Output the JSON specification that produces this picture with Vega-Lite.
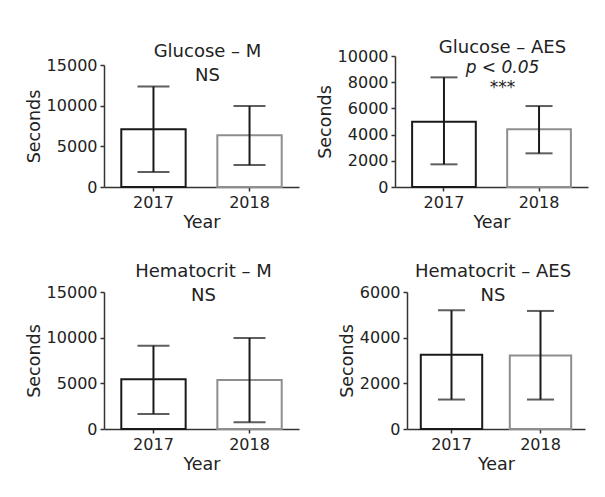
{
  "$schema": "https://vega.github.io/schema/vega-lite/v6.json",
  "padding": {"left": 25, "top": 39, "right": 5, "bottom": 5},
  "background": "white",
  "data": {
    "values": [
      {"panel": "GM", "year": "2017", "mean": 7100, "low": 1850, "high": 12350},
      {"panel": "GM", "year": "2018", "mean": 6350, "low": 2700, "high": 9950},
      {"panel": "GAES", "year": "2017", "mean": 4990, "low": 1730, "high": 8370},
      {"panel": "GAES", "year": "2018", "mean": 4400, "low": 2570, "high": 6180},
      {"panel": "HM", "year": "2017", "mean": 5450, "low": 1650, "high": 9120},
      {"panel": "HM", "year": "2018", "mean": 5370, "low": 740, "high": 9970},
      {"panel": "HAES", "year": "2017", "mean": 3250, "low": 1290, "high": 5200},
      {"panel": "HAES", "year": "2018", "mean": 3220, "low": 1290, "high": 5170}
    ]
  },
  "vconcat": [
    {
      "hconcat": [
        {
          "width": 195, "height": 131,
          "title": {"text": ["Glucose – M", "NS"], "offset": -29, "dx": 6},
          "transform": [{"filter": "datum.panel === 'GM'"}],
          "encoding": {
            "x": {"field": "year", "type": "nominal", "scale": {"paddingInner": 0.33, "paddingOuter": 0.18}, "axis": {"title": "Year", "labelAngle": 0}}
          },
          "layer": [
            {"mark": {"type": "bar", "fill": "white", "strokeWidth": 2},
             "encoding": {
               "y": {"field": "mean", "type": "quantitative", "scale": {"domain": [0, 15000], "range": [131, 9], "nice": false}, "axis": {"title": "Seconds", "values": [0, 5000, 10000, 15000], "format": "d", "labelOverlap": false}},
               "stroke": {"field": "year", "type": "nominal", "scale": {"domain": ["2017", "2018"], "range": ["#1a1a1a", "#8e8e8e"]}, "legend": null}
             }},
            {"mark": {"type": "rule", "strokeWidth": 2, "color": "#1a1a1a"},
             "encoding": {"y": {"field": "low", "type": "quantitative", "axis": {"title": "Seconds", "values": [0, 5000, 10000, 15000], "format": "d", "labelOverlap": false}}, "y2": {"field": "high"}}},
            {"mark": {"type": "tick", "size": 32, "thickness": 2, "color": "#1a1a1a"},
             "encoding": {"y": {"field": "low", "type": "quantitative", "axis": {"title": "Seconds", "values": [0, 5000, 10000, 15000], "format": "d", "labelOverlap": false}}}},
            {"mark": {"type": "tick", "size": 32, "thickness": 2, "color": "#1a1a1a"},
             "encoding": {"y": {"field": "high", "type": "quantitative", "axis": {"title": "Seconds", "values": [0, 5000, 10000, 15000], "format": "d", "labelOverlap": false}}}}
          ]
        },
        {
          "width": 193, "height": 131,
          "title": {"text": "Glucose – AES", "subtitle": ["p < 0.05", "***"], "offset": -48, "dx": 11, "subtitlePadding": 3, "subtitleLineHeight": 20},
          "transform": [{"filter": "datum.panel === 'GAES'"}],
          "encoding": {
            "x": {"field": "year", "type": "nominal", "scale": {"paddingInner": 0.33, "paddingOuter": 0.18}, "axis": {"title": "Year", "labelAngle": 0}}
          },
          "layer": [
            {"mark": {"type": "bar", "fill": "white", "strokeWidth": 2},
             "encoding": {
               "y": {"field": "mean", "type": "quantitative", "scale": {"domain": [0, 10000], "nice": false}, "axis": {"title": "Seconds", "values": [0, 2000, 4000, 6000, 8000, 10000], "format": "d", "labelOverlap": false}},
               "stroke": {"field": "year", "type": "nominal", "scale": {"domain": ["2017", "2018"], "range": ["#1a1a1a", "#8e8e8e"]}, "legend": null}
             }},
            {"mark": {"type": "rule", "strokeWidth": 2, "color": "#1a1a1a"},
             "encoding": {"y": {"field": "low", "type": "quantitative", "axis": {"title": "Seconds", "values": [0, 2000, 4000, 6000, 8000, 10000], "format": "d", "labelOverlap": false}}, "y2": {"field": "high"}}},
            {"mark": {"type": "tick", "size": 27, "thickness": 2, "color": "#1a1a1a"},
             "encoding": {"y": {"field": "low", "type": "quantitative", "axis": {"title": "Seconds", "values": [0, 2000, 4000, 6000, 8000, 10000], "format": "d", "labelOverlap": false}}}},
            {"mark": {"type": "tick", "size": 27, "thickness": 2, "color": "#1a1a1a"},
             "encoding": {"y": {"field": "high", "type": "quantitative", "axis": {"title": "Seconds", "values": [0, 2000, 4000, 6000, 8000, 10000], "format": "d", "labelOverlap": false}}}}
          ]
        }
      ],
      "spacing": 17
    },
    {
      "hconcat": [
        {
          "width": 195, "height": 137,
          "title": {"text": ["Hematocrit – M", "NS"], "offset": -21, "dx": 2},
          "transform": [{"filter": "datum.panel === 'HM'"}],
          "encoding": {
            "x": {"field": "year", "type": "nominal", "scale": {"paddingInner": 0.33, "paddingOuter": 0.18}, "axis": {"title": "Year", "labelAngle": 0}}
          },
          "layer": [
            {"mark": {"type": "bar", "fill": "white", "strokeWidth": 2},
             "encoding": {
               "y": {"field": "mean", "type": "quantitative", "scale": {"domain": [0, 15000], "nice": false}, "axis": {"title": "Seconds", "values": [0, 5000, 10000, 15000], "format": "d", "labelOverlap": false}},
               "stroke": {"field": "year", "type": "nominal", "scale": {"domain": ["2017", "2018"], "range": ["#1a1a1a", "#8e8e8e"]}, "legend": null}
             }},
            {"mark": {"type": "rule", "strokeWidth": 2, "color": "#1a1a1a"},
             "encoding": {"y": {"field": "low", "type": "quantitative", "axis": {"title": "Seconds", "values": [0, 5000, 10000, 15000], "format": "d", "labelOverlap": false}}, "y2": {"field": "high"}}},
            {"mark": {"type": "tick", "size": 32, "thickness": 2, "color": "#1a1a1a"},
             "encoding": {"y": {"field": "low", "type": "quantitative", "axis": {"title": "Seconds", "values": [0, 5000, 10000, 15000], "format": "d", "labelOverlap": false}}}},
            {"mark": {"type": "tick", "size": 32, "thickness": 2, "color": "#1a1a1a"},
             "encoding": {"y": {"field": "high", "type": "quantitative", "axis": {"title": "Seconds", "values": [0, 5000, 10000, 15000], "format": "d", "labelOverlap": false}}}}
          ]
        },
        {
          "width": 178, "height": 137,
          "title": {"text": ["Hematocrit – AES", "NS"], "offset": -21, "dx": -3},
          "transform": [{"filter": "datum.panel === 'HAES'"}],
          "encoding": {
            "x": {"field": "year", "type": "nominal", "scale": {"paddingInner": 0.31, "paddingOuter": 0.155}, "axis": {"title": "Year", "labelAngle": 0}}
          },
          "layer": [
            {"mark": {"type": "bar", "fill": "white", "strokeWidth": 2},
             "encoding": {
               "y": {"field": "mean", "type": "quantitative", "scale": {"domain": [0, 6000], "nice": false}, "axis": {"title": "Seconds", "values": [0, 2000, 4000, 6000], "format": "d", "labelOverlap": false}},
               "stroke": {"field": "year", "type": "nominal", "scale": {"domain": ["2017", "2018"], "range": ["#1a1a1a", "#8e8e8e"]}, "legend": null}
             }},
            {"mark": {"type": "rule", "strokeWidth": 2, "color": "#1a1a1a"},
             "encoding": {"y": {"field": "low", "type": "quantitative", "axis": {"title": "Seconds", "values": [0, 2000, 4000, 6000], "format": "d", "labelOverlap": false}}, "y2": {"field": "high"}}},
            {"mark": {"type": "tick", "size": 27, "thickness": 2, "color": "#1a1a1a"},
             "encoding": {"y": {"field": "low", "type": "quantitative", "axis": {"title": "Seconds", "values": [0, 2000, 4000, 6000], "format": "d", "labelOverlap": false}}}},
            {"mark": {"type": "tick", "size": 27, "thickness": 2, "color": "#1a1a1a"},
             "encoding": {"y": {"field": "high", "type": "quantitative", "axis": {"title": "Seconds", "values": [0, 2000, 4000, 6000], "format": "d", "labelOverlap": false}}}}
          ]
        }
      ],
      "spacing": 39
    }
  ],
  "spacing": 32,
  "resolve": {"scale": {"x": "independent", "y": "independent"}},
  "config": {
    "font": "DejaVu Sans",
    "view": {"stroke": null},
    "axis": {
      "labelFont": "DejaVu Sans", "labelFontSize": 16, "labelColor": "#222", "labelOverlap": false,
      "titleFont": "DejaVu Sans", "titleFontSize": 17.5, "titleFontWeight": "normal", "titleColor": "#222",
      "domainColor": "#333", "domainWidth": 1.5, "tickColor": "#333", "tickWidth": 1.5, "tickSize": 4,
      "grid": false, "labelPadding": 3, "titlePadding": 3
    },
    "axisY": {"labelOverlap": false},
    "title": {
      "font": "DejaVu Sans", "fontSize": 18, "fontWeight": "normal", "color": "#222", "lineHeight": 24,
      "anchor": "middle", "frame": "group",
      "subtitleFont": "DejaVu Sans", "subtitleFontSize": 17, "subtitleFontStyle": "italic", "subtitleColor": "#222",
      "subtitleLineHeight": 21, "subtitlePadding": 1
    }
  }
}
